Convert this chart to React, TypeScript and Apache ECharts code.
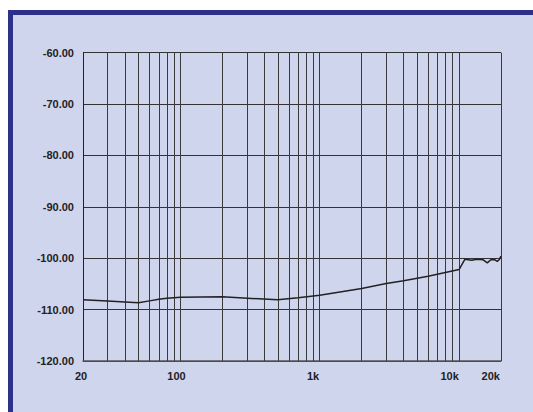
import React, { useEffect, useRef } from "react";
import * as echarts from "echarts";

const freqs = [20, 30, 40, 50, 60, 70, 80, 100, 200, 500, 700, 1000, 2000, 3000, 4000, 6000, 10000, 11000, 12300, 13400, 14900, 15950, 16900, 18100, 18800, 19400, 20000];
const levels = [-108.1, -108.3, -108.5, -108.65, -108.3, -108.0, -107.8, -107.6, -107.5, -108.1, -107.7, -107.2, -105.9, -104.9, -104.4, -103.5, -102.2, -100.2, -100.4, -100.2, -100.3, -100.9, -100.3, -100.3, -100.6, -100.3, -99.6];
const gridFreqs = [30, 40, 50, 60, 70, 80, 90, 100, 200, 300, 400, 500, 600, 700, 800, 900, 1000, 2000, 3000, 4000, 5000, 6000, 7000, 8000, 9000, 10000, 20000];
const yTicks = { min: -120, max: -60, interval: 10 };
const xRange = { min: 20, max: 20000 };

const fmtFreq = (v: number) => (v >= 1000 ? `${Math.round(v / 1000)}k` : `${Math.round(v)}`);

export default function App() {
  const ref = useRef<HTMLDivElement>(null);
  useEffect(() => {
    const chart = echarts.init(ref.current!, null, { renderer: "svg" });
    const labelStyle = { color: "#222", fontFamily: "Liberation Sans, Arial, sans-serif", fontWeight: "bold" as const, fontSize: 11 };
    chart.setOption({
      animation: false,
      backgroundColor: "#ffffff",
      graphic: [
        {
          type: "rect",
          silent: true,
          z: -10,
          shape: { x: 10.5, y: 12.5, width: 600, height: 500 },
          style: { fill: "#d0d5ee", stroke: "#2e3189", lineWidth: 5 },
        },
      ],
      grid: [
        { left: 83, top: 52.7, right: 32, bottom: 51, containLabel: false },
        { left: 81, top: 52.7, right: 42.3, bottom: 51, containLabel: false },
      ],
      xAxis: [
        {
          type: "log",
          gridIndex: 0,
          logBase: 10,
          min: xRange.min,
          max: xRange.max,
          axisLabel: { show: false },
          axisTick: { show: false },
          splitLine: { show: false },
          axisLine: { show: true, lineStyle: { color: "#555", width: 1.5 } },
        },
        {
          type: "log",
          gridIndex: 1,
          logBase: 10,
          min: xRange.min,
          max: xRange.max,
          axisLabel: { show: true, margin: 9, showMinLabel: true, showMaxLabel: true, formatter: fmtFreq, ...labelStyle },
          axisTick: { show: false },
          splitLine: { show: false },
          axisLine: { show: false },
        },
      ],
      yAxis: [
        {
          type: "value",
          gridIndex: 0,
          min: yTicks.min,
          max: yTicks.max,
          interval: yTicks.interval,
          axisLabel: { margin: 9, formatter: (v: number) => v.toFixed(2), ...labelStyle },
          axisTick: { show: false },
          axisLine: { show: true, lineStyle: { color: "#222", width: 1 } },
          splitLine: { show: true, lineStyle: { color: "#333", width: 1 } },
        },
        {
          type: "value",
          gridIndex: 1,
          min: yTicks.min,
          max: yTicks.max,
          show: false,
        },
      ],
      series: [
        {
          type: "line",
          xAxisIndex: 0,
          yAxisIndex: 0,
          data: freqs.map((f, i) => [f, levels[i]]),
          showSymbol: false,
          symbol: "none",
          lineStyle: { color: "#222", width: 1.5 },
          z: 5,
          markLine: {
            silent: true,
            symbol: ["none", "none"],
            label: { show: false },
            lineStyle: { color: "#3a3a3a", width: 1, type: "solid" },
            data: gridFreqs.map((f) => ({ xAxis: f })),
          },
        },
      ],
    });
    return () => chart.dispose();
  }, []);
  return <div ref={ref} style={{ position: "absolute", left: 0, top: 0, width: 533, height: 412 }} />;
}
